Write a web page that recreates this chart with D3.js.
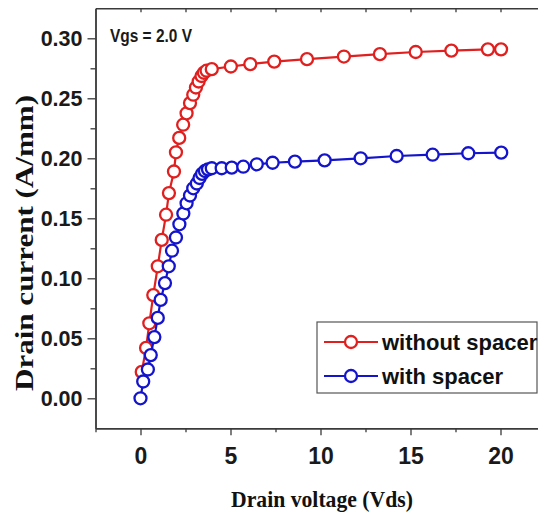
<!DOCTYPE html>
<html>
<head>
<meta charset="utf-8">
<script src="https://cdn.jsdelivr.net/npm/d3@7"></script>
<style>
html,body{margin:0;padding:0;background:#fff;}
svg{display:block;}
</style>
</head>
<body>
<div id="chart"></div>
<script>
// ---- data ----
const seriesNames = ["without spacer", "with spacer"];
const seriesColors = ["#e01f1f", "#1414cc"];
const withoutSpacerVds = [0.07,0.31,0.49,0.71,0.96,1.18,1.42,1.58,1.86,1.97,2.15,2.37,2.56,2.75,2.93,3.08,3.23,3.39,3.52,3.67,3.96,5.02,6.1,7.43,9.25,11.3,13.3,15.29,17.27,19.3,20.03];
const withoutSpacerId  = [0.022,0.042,0.0625,0.086,0.11,0.132,0.153,0.171,0.189,0.205,0.217,0.228,0.2375,0.246,0.253,0.259,0.264,0.2686,0.2713,0.273,0.2743,0.2765,0.2785,0.2806,0.2826,0.2848,0.2868,0.2886,0.2897,0.2908,0.2908];
const withSpacerVds = [0,0.15,0.41,0.57,0.77,0.96,1.12,1.36,1.57,1.75,1.97,2.16,2.38,2.56,2.75,2.93,3.13,3.28,3.42,3.58,3.75,3.96,4.51,5.07,5.71,6.46,7.34,8.58,10.23,12.23,14.23,16.23,18.21,20.04];
const withSpacerId  = [0,0.014,0.024,0.036,0.051,0.067,0.082,0.096,0.110,0.123,0.134,0.145,0.154,0.1625,0.169,0.175,0.179,0.1836,0.187,0.1894,0.1908,0.1917,0.1917,0.1922,0.193,0.195,0.1963,0.1972,0.1983,0.2,0.2019,0.203,0.2042,0.2047];
const xTicks = [0,5,10,15,20];
const xMinorTicks = [-2.5,2.5,7.5,12.5,17.5,22.5];
const yTicks = [0,0.05,0.10,0.15,0.20,0.25,0.30];
const yMinorTicks = [-0.025,0.025,0.075,0.125,0.175,0.225,0.275,0.325];
const xTitle = "Drain voltage (Vds)";
const yTitle = "Drain current (A/mm)";
const annotation = "Vgs = 2.0 V";

// ---- layout ----
const W = 538, H = 514;
const svg = d3.select("#chart").append("svg").attr("width", W).attr("height", H);

const x = d3.scaleLinear().domain([-2.5, 22.5]).range([95.5, 545.5]);
const y = d3.scaleLinear().domain([-0.025, 0.325]).range([428.3, 8.3]);

const axisColor = "#3a3a3a";
const tickFont = "'Liberation Sans', Arial, sans-serif";

function styleAxis(g){
  g.selectAll("path.domain").attr("stroke", axisColor).attr("stroke-width", 1.4);
  g.selectAll(".tick line").attr("stroke", axisColor).attr("stroke-width", 1.3);
}

// bottom axis
const gx = svg.append("g").attr("transform", `translate(0,${y(-0.025)})`)
  .call(d3.axisBottom(x).tickValues(xTicks).tickFormat(d3.format("d")).tickSize(7).tickPadding(12).tickSizeOuter(0));
styleAxis(gx);
gx.selectAll("text").attr("font-family", tickFont).attr("font-weight", "bold").attr("font-size", 23).attr("fill", "#1a1a1a");
const gxm = svg.append("g").attr("transform", `translate(0,${y(-0.025)})`)
  .call(d3.axisBottom(x).tickValues(xMinorTicks).tickFormat("").tickSize(4).tickSizeOuter(0));
styleAxis(gxm);

// top axis (inward ticks)
const gt = svg.append("g").attr("transform", `translate(0,${y(0.325)})`)
  .call(d3.axisTop(x).tickValues(xTicks.concat(xMinorTicks.slice(1,-1))).tickFormat("").tickSize(-4).tickSizeOuter(0));
styleAxis(gt);

// left axis
const gy = svg.append("g").attr("transform", `translate(${x(-2.5)},0)`)
  .call(d3.axisLeft(y).tickValues(yTicks).tickFormat(d3.format(".2f")).tickSize(8).tickPadding(5).tickSizeOuter(0));
styleAxis(gy);
gy.selectAll("text").attr("font-family", tickFont).attr("font-weight", "bold").attr("font-size", 21.5).attr("fill", "#1a1a1a");
const gym = svg.append("g").attr("transform", `translate(${x(-2.5)},0)`)
  .call(d3.axisLeft(y).tickValues(yMinorTicks.slice(1,-1)).tickFormat("").tickSize(5).tickSizeOuter(0));
styleAxis(gym);

// series
const series = [
  {name: seriesNames[0], color: seriesColors[0], pts: withoutSpacerVds.map((v,i)=>[v, withoutSpacerId[i]])},
  {name: seriesNames[1], color: seriesColors[1], pts: withSpacerVds.map((v,i)=>[v, withSpacerId[i]])}
];
const line = d3.line().x(d=>x(d[0])).y(d=>y(d[1]));
series.forEach(s=>{
  svg.append("path").datum(s.pts).attr("d", line)
    .attr("fill","none").attr("stroke", s.color).attr("stroke-width", 2.2);
  svg.append("g").selectAll("circle").data(s.pts).join("circle")
    .attr("cx", d=>x(d[0])).attr("cy", d=>y(d[1])).attr("r", 6)
    .attr("fill","#fff").attr("stroke", s.color).attr("stroke-width", 2.3);
});

// annotation
svg.append("text").attr("x", 110).attr("y", 42).text(annotation)
  .attr("font-family", tickFont).attr("font-weight","bold").attr("font-size", 17.5)
  .attr("textLength", 82).attr("lengthAdjust","spacingAndGlyphs").attr("fill","#1a1a1a");

// axis titles
svg.append("text").attr("x", 322).attr("y", 507).attr("text-anchor","middle").text(xTitle)
  .attr("font-family","'Liberation Serif', 'Times New Roman', serif").attr("font-weight","bold")
  .attr("font-size", 23).attr("textLength", 182).attr("lengthAdjust","spacingAndGlyphs").attr("fill","#111");
svg.append("text").attr("transform","translate(33,243) rotate(-90)").attr("text-anchor","middle").text(yTitle)
  .attr("font-family","'Liberation Serif', 'Times New Roman', serif").attr("font-weight","bold")
  .attr("font-size", 26).attr("textLength", 296).attr("lengthAdjust","spacingAndGlyphs").attr("fill","#111");

// legend
const lg = svg.append("g");
lg.append("rect").attr("x", 317).attr("y", 322).attr("width", 220).attr("height", 71)
  .attr("fill","#fff").attr("stroke","#555").attr("stroke-width", 1.2);
series.forEach((s,i)=>{
  const cy = 342 + i*34;
  lg.append("line").attr("x1", 324).attr("x2", 378).attr("y1", cy).attr("y2", cy)
    .attr("stroke", s.color).attr("stroke-width", 2.2);
  lg.append("circle").attr("cx", 351).attr("cy", cy).attr("r", 6)
    .attr("fill","#fff").attr("stroke", s.color).attr("stroke-width", 2.3);
  lg.append("text").attr("x", 382).attr("y", cy).attr("dy","0.35em").text(s.name)
    .attr("font-family", tickFont).attr("font-weight","bold").attr("font-size", 22).attr("fill","#111");
});
</script>
</body>
</html>
